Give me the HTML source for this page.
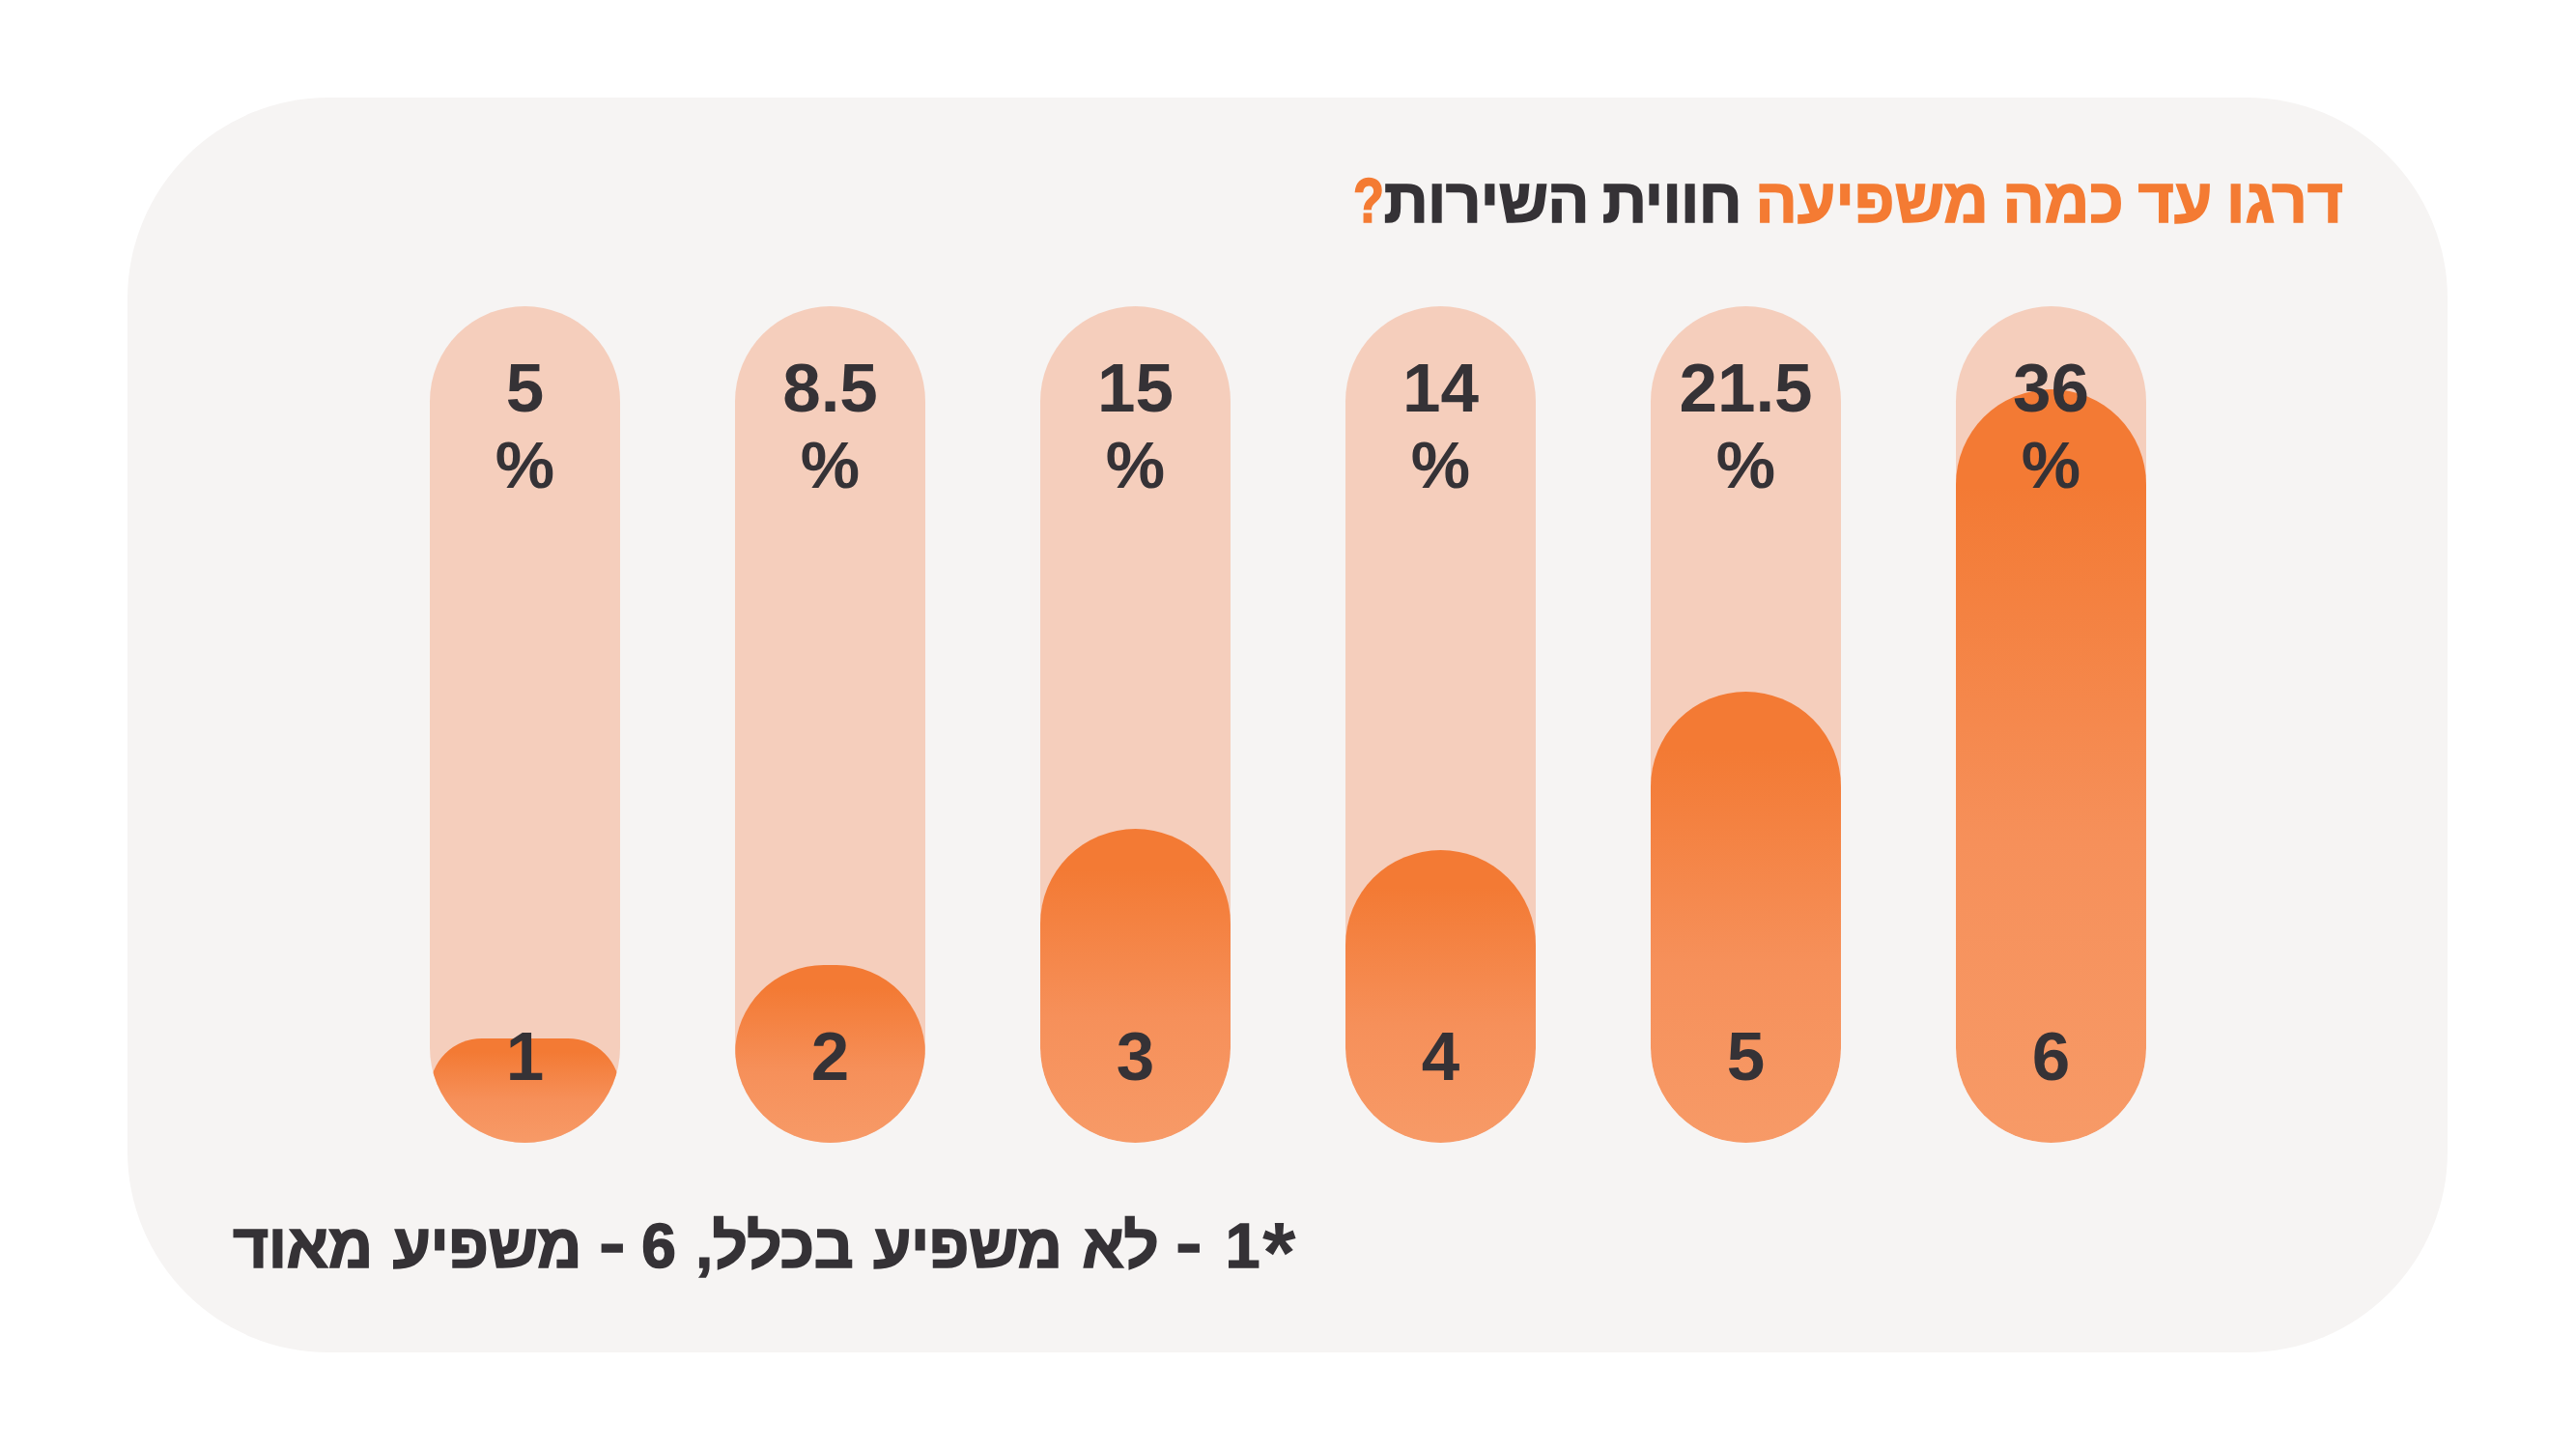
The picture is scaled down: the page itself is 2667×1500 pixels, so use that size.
<!DOCTYPE html>
<html lang="he">
<head>
<meta charset="utf-8">
<title>דרגו עד כמה משפיעה חווית השירות?</title>
<style>
  html,body{margin:0;padding:0;background:#fff;}
  body{width:2667px;height:1500px;position:relative;overflow:hidden;
       font-family:"Liberation Sans",sans-serif;font-weight:700;color:#353236;}
  .card{position:absolute;left:132px;top:100.5px;width:2402px;height:1299px;
        border-radius:208px;background:#f6f4f3;}
  .title{position:absolute;right:241px;top:167.5px;margin:0;white-space:nowrap;
         direction:rtl;font-size:64px;line-height:80px;font-weight:700;color:#f47b33;
         -webkit-text-stroke:1.6px currentColor;letter-spacing:0;word-spacing:-3px;}
  .title .dk{color:#353236;letter-spacing:-0.7px;}
  .title .q{display:inline-block;transform:scaleX(.82);transform-origin:right center;}
  .bar{position:absolute;top:317px;width:197px;height:866px;border-radius:98.5px;
       background:#f5cebc;overflow:hidden;}
  .fill{position:absolute;left:0;right:0;bottom:0;border-radius:9999px;
        background:linear-gradient(to bottom,#f37a34 0%,#f37a34 13%,#f6905a 60%,#f79a67 100%);}
  .lbl{position:absolute;width:197px;text-align:center;font-size:69px;line-height:80px;
       white-space:nowrap;}
  .pct{top:362px;line-height:79px;}
  .pct b{font-size:71px;font-weight:700;}
  .num{top:1054px;font-size:71px;}
  .note{position:absolute;left:241px;top:1249.5px;margin:0;white-space:nowrap;direction:rtl;
        font-size:64px;line-height:80px;font-style:normal;font-weight:700;
        -webkit-text-stroke:1.6px currentColor;letter-spacing:-0.5px;word-spacing:3.5px;}
  .note .d{display:inline-block;transform:scaleX(1.25);position:relative;top:-3px;}
  .note .d1{margin-right:7px;}
  .note .ast{font-size:89px;line-height:0;position:relative;top:15px;margin-left:3px;-webkit-text-stroke:0;letter-spacing:0;}
</style>
</head>
<body>
<div class="card"></div>
<h1 class="title">דרגו עד כמה משפיעה <span class="dk">חווית השירות</span><span class="q">?</span></h1>

<div class="bar" style="left:445px"><div class="fill" style="height:108.5px"></div></div>
<div class="bar" style="left:761px"><div class="fill" style="height:184px"></div></div>
<div class="bar" style="left:1077px"><div class="fill" style="height:325px"></div></div>
<div class="bar" style="left:1393px"><div class="fill" style="height:303px"></div></div>
<div class="bar" style="left:1709px"><div class="fill" style="height:467px"></div></div>
<div class="bar" style="left:2025px"><div class="fill" style="height:780px"></div></div>

<div class="lbl pct" style="left:445px"><b>5</b><br>%</div>
<div class="lbl pct" style="left:761px"><b>8.5</b><br>%</div>
<div class="lbl pct" style="left:1077px"><b>15</b><br>%</div>
<div class="lbl pct" style="left:1393px"><b>14</b><br>%</div>
<div class="lbl pct" style="left:1709px"><b>21.5</b><br>%</div>
<div class="lbl pct" style="left:2025px"><b>36</b><br>%</div>

<div class="lbl num" style="left:445px">1</div>
<div class="lbl num" style="left:761px">2</div>
<div class="lbl num" style="left:1077px">3</div>
<div class="lbl num" style="left:1393px">4</div>
<div class="lbl num" style="left:1709px">5</div>
<div class="lbl num" style="left:2025px">6</div>

<p class="note"><span class="ast">*</span>1 <span class="d d1">-</span> לא משפיע בכלל, 6 <span class="d">-</span> משפיע מאוד</p>
</body>
</html>
